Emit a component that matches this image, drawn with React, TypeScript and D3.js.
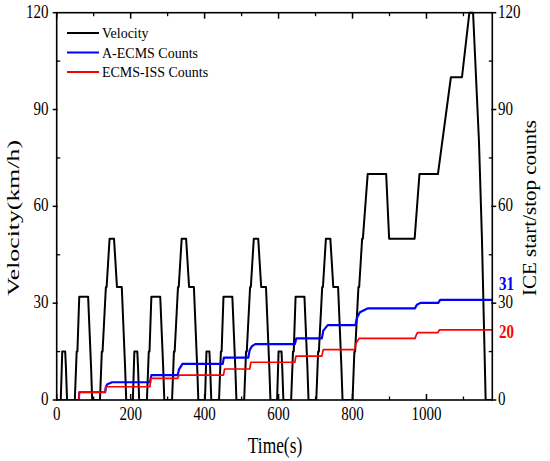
import React from "react";
import * as d3 from "d3";

// ---- data ----
const velTime = [
  0, 11, 15, 23, 25, 28, 49, 54, 56, 61, 85, 93, 96, 117, 122, 124, 133, 135, 143, 155, 163, 176, 185, 188,
  195, 206, 210, 218, 220, 223, 244, 249, 251, 256, 280, 288, 291, 312, 317, 319, 328, 330, 338, 350, 358, 371, 380, 383,
  390, 401, 405, 413, 415, 418, 439, 444, 446, 451, 475, 483, 486, 507, 512, 514, 523, 525, 533, 545, 553, 566, 575, 578,
  585, 596, 600, 608, 610, 613, 634, 639, 641, 646, 670, 678, 681, 702, 707, 709, 718, 720, 728, 740, 748, 761, 770, 773,
  780, 800, 805, 807, 816, 818, 826, 828, 841, 891, 899, 968, 981, 1031, 1066, 1096, 1116, 1126, 1142, 1150, 1160, 1180,
];
const velSpeed = [
  0, 0, 15, 15, 10, 0, 0, 15, 15, 32, 32, 10, 0, 0, 15, 15, 35, 35, 50, 50, 35, 35, 10, 0,
  0, 0, 15, 15, 10, 0, 0, 15, 15, 32, 32, 10, 0, 0, 15, 15, 35, 35, 50, 50, 35, 35, 10, 0,
  0, 0, 15, 15, 10, 0, 0, 15, 15, 32, 32, 10, 0, 0, 15, 15, 35, 35, 50, 50, 35, 35, 10, 0,
  0, 0, 15, 15, 10, 0, 0, 15, 15, 32, 32, 10, 0, 0, 15, 15, 35, 35, 50, 50, 35, 35, 10, 0,
  0, 0, 15, 15, 35, 35, 50, 50, 70, 70, 50, 50, 70, 70, 100, 100, 120, 120, 80, 50, 0, 0,
];

const aecmsTime = [0, 60, 61, 131, 133, 137, 150, 252, 256, 327, 331, 340, 449, 452, 518, 522, 528, 537, 644, 648, 717, 721, 733, 808, 812, 820, 842, 969, 974, 984, 1032, 1037, 1180];
const aecmsCount = [0, 0, 2.4, 2.4, 4.1, 4.9, 5.5, 5.5, 7.7, 7.7, 9.5, 11.2, 11.2, 13.1, 13.1, 15.5, 16.7, 17.3, 17.3, 19.1, 19.1, 21.5, 23.2, 23.2, 25.5, 27.2, 28.4, 28.4, 29.5, 30.1, 30.1, 31.0, 31.0];

const issTime = [0, 60, 61, 131, 133, 252, 255, 327, 331, 451, 454, 522, 525, 644, 647, 717, 721, 806, 809, 818, 969, 973, 976, 1031, 1035, 1180];
const issCount = [0, 0, 2.4, 2.4, 4.1, 4.1, 6.7, 6.7, 7.7, 7.7, 9.6, 9.6, 11.7, 11.7, 13.6, 13.6, 15.6, 15.6, 17.5, 19.1, 19.1, 20.3, 20.9, 20.9, 21.7, 21.7];

const xMajor = [0, 200, 400, 600, 800, 1000];
const xMinor = [100, 300, 500, 700, 900, 1100];
const yMajor = [0, 30, 60, 90, 120];
const yMinor = [15, 45, 75, 105];

const legendNames = ["Velocity", "A-ECMS Counts", "ECMS-ISS Counts"];
const legendColors = ["#000000", "#0000ff", "#ff0000"];
const endLabels = ["31", "20"];

const FONT = "'Liberation Serif', 'Times New Roman', serif";

const L = 56.7, R = 492.3, T = 12.7, B = 400;

export default function App() {
  const x = d3.scaleLinear().domain([0, 1178]).range([L, R]);
  const y = d3.scaleLinear().domain([0, 120]).range([B, T]);

  const line = d3
    .line<[number, number]>()
    .x((d) => x(d[0]))
    .y((d) => y(d[1]));

  const velPts = velTime.map((t, i) => [t, velSpeed[i]] as [number, number]);
  const aPts = aecmsTime.map((t, i) => [t, aecmsCount[i]] as [number, number]);
  const iPts = issTime.map((t, i) => [t, issCount[i]] as [number, number]);

  const sy = 1.22;
  const Txt = (p: {
    x: number; y: number; anchor?: string; size: number; fill?: string; weight?: string; s?: number; children: any;
  }) => (
    <text
      transform={`translate(${p.x},${p.y}) scale(1,${p.s ?? sy})`}
      textAnchor={p.anchor ?? "start"}
      fontSize={p.size}
      fill={p.fill ?? "#000"}
      fontWeight={p.weight ?? "normal"}
      fontFamily={FONT}
    >
      {p.children}
    </text>
  );

  const aLast = aecmsCount[aecmsCount.length - 1];
  const iLast = issCount[issCount.length - 1];

  return (
    <svg
      width={550}
      height={461}
      style={{ position: "absolute", left: 0, top: 0, background: "#fff" }}
    >
      <rect x={0} y={0} width={550} height={461} fill="#fff" />
      <defs>
        <clipPath id="plot">
          <rect x={L} y={T - 2} width={R - L} height={B - T + 2} />
        </clipPath>
      </defs>

      <g clipPath="url(#plot)" fill="none" strokeLinejoin="round">
        <path d={line(velPts) ?? ""} stroke="#000" strokeWidth={2} />
        <path d={line(aPts) ?? ""} stroke="#0000ff" strokeWidth={2.2} />
        <path d={line(iPts) ?? ""} stroke="#ff0000" strokeWidth={1.7} />
      </g>

      {/* frame */}
      <rect x={L} y={T} width={R - L} height={B - T} fill="none" stroke="#000" strokeWidth={1.6} />

      {/* x ticks bottom and top (inward) */}
      {xMajor.map((v) => (
        <g key={"xm" + v}>
          <line x1={x(v)} x2={x(v)} y1={B} y2={B - 6} stroke="#000" strokeWidth={1.5} />
          <line x1={x(v)} x2={x(v)} y1={T} y2={T + 6} stroke="#000" strokeWidth={1.5} />
          <Txt x={x(v)} y={B + 20} anchor="middle" size={15}>{v}</Txt>
        </g>
      ))}
      {xMinor.map((v) => (
        <g key={"xn" + v}>
          <line x1={x(v)} x2={x(v)} y1={B} y2={B - 3.5} stroke="#000" strokeWidth={1.3} />
          <line x1={x(v)} x2={x(v)} y1={T} y2={T + 3.5} stroke="#000" strokeWidth={1.3} />
        </g>
      ))}

      {/* y ticks left and right */}
      {yMajor.map((v) => (
        <g key={"ym" + v}>
          <line x1={L - 4} x2={L + 1} y1={y(v)} y2={y(v)} stroke="#000" strokeWidth={1.5} />
          <line x1={R - 1} x2={R + 4} y1={y(v)} y2={y(v)} stroke="#000" strokeWidth={1.5} />
          <Txt x={48.5} y={y(v) + 5} anchor="end" size={15}>{v}</Txt>
          <Txt x={498} y={y(v) + 5} anchor="start" size={15}>{v}</Txt>
        </g>
      ))}
      {yMinor.map((v) => (
        <g key={"yn" + v}>
          <line x1={L} x2={L + 3.5} y1={y(v)} y2={y(v)} stroke="#000" strokeWidth={1.3} />
          <line x1={R} x2={R - 3.5} y1={y(v)} y2={y(v)} stroke="#000" strokeWidth={1.3} />
        </g>
      ))}

      {/* end labels */}
      <Txt x={499} y={y(aLast) - 9.5} size={15} fill="#0000ff" weight="bold">{endLabels[0]}</Txt>
      <Txt x={499} y={y(iLast) + 8} size={15} fill="#ff0000" weight="bold">{endLabels[1]}</Txt>

      {/* legend */}
      {legendNames.map((n, i) => (
        <g key={n}>
          <line x1={67} x2={99} y1={33 + i * 19.5} y2={33 + i * 19.5} stroke={legendColors[i]} strokeWidth={2} />
          <Txt x={102} y={38 + i * 19.5} size={14} s={1.1}>{n}</Txt>
        </g>
      ))}

      {/* axis titles */}
      <Txt x={275} y={453} anchor="middle" size={17.4} s={1.3}>Time(s)</Txt>
      <text
        transform="translate(19,218) rotate(-90)"
        textAnchor="middle"
        fontSize={17}
        fontFamily={FONT}
        textLength={156}
        lengthAdjust="spacingAndGlyphs"
      >
        Velocity(km/h)
      </text>
      <text
        transform="translate(536,208) rotate(-90)"
        textAnchor="middle"
        fontSize={18}
        fontFamily={FONT}
        textLength={176}
        lengthAdjust="spacingAndGlyphs"
      >
        ICE start/stop counts
      </text>
    </svg>
  );
}
